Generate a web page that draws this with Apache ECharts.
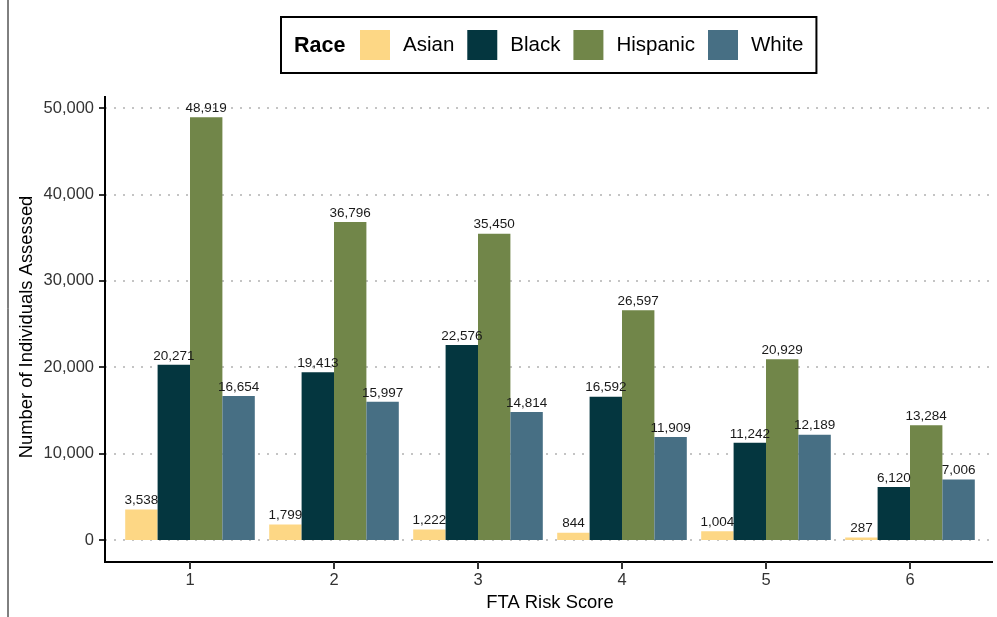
<!DOCTYPE html>
<html>
<head>
<meta charset="utf-8">
<script src="https://cdn.jsdelivr.net/npm/echarts@6/dist/echarts.min.js"></script>
<style>
html,body{margin:0;padding:0;background:#fff;}
#chart{width:997px;height:617px;}
</style>
</head>
<body>
<div id="chart"></div>
<script>
var categories = ['1', '2', '3', '4', '5', '6'];
var asian = [3538, 1799, 1222, 844, 1004, 287];
var black = [20271, 19413, 22576, 16592, 11242, 6120];
var hispanic = [48919, 36796, 35450, 26597, 20929, 13284];
var white = [16654, 15997, 14814, 11909, 12189, 7006];
var seriesNames = ['Asian', 'Black', 'Hispanic', 'White'];
var seriesColors = ['#FDD785', '#04363F', '#718649', '#476F84'];
var yTicks = [0, 10000, 20000, 30000, 40000, 50000];

var FONT = '"Liberation Sans", Arial, sans-serif';
var fmt = function (v) { return Number(v).toLocaleString('en-US'); };

var seriesData = [asian, black, hispanic, white];
var series = seriesData.map(function (d, i) {
  return {
    name: seriesNames[i],
    type: 'bar',
    xAxisIndex: 0,
    yAxisIndex: 0,
    data: d,
    barGap: '0%',
    barCategoryGap: '10%',
    itemStyle: { color: seriesColors[i] },
    label: {
      show: true,
      position: 'top',
      distance: 2,
      formatter: function (p) { return fmt(p.value); },
      fontFamily: FONT,
      fontSize: 13.5,
      color: '#1a1a1a'
    }
  };
});

var baseGraphics = [
  { type: 'line', shape: { x1: 8, y1: 0, x2: 8, y2: 617 }, style: { stroke: '#000', lineWidth: 1 }, z: 10 },
  { type: 'line', shape: { x1: 105, y1: 96, x2: 105, y2: 563 }, style: { stroke: '#000', lineWidth: 2 }, z: 10 },
  { type: 'line', shape: { x1: 104, y1: 562, x2: 993, y2: 562 }, style: { stroke: '#000', lineWidth: 2 }, z: 10 },
  { type: 'text', left: 294, top: 35, style: { text: 'Race', font: 'bold 21.5px ' + FONT, fill: '#000' }, z: 10 },
  { type: 'text', x: 27, y: 327, rotation: Math.PI / 2,
    style: { text: 'Number of Individuals Assessed', font: '18.4px ' + FONT, fill: '#000', align: 'center', verticalAlign: 'middle' }, z: 10 }
];

var chart = echarts.init(document.getElementById('chart'), null, { renderer: 'canvas' });
chart.setOption({
  animation: false,
  backgroundColor: '#ffffff',
  textStyle: { fontFamily: FONT },
  grid: [
    { left: 118, right: 15, top: 108, bottom: 77 },
    { left: 105, right: 4, top: 108, bottom: 77 },
    { left: 118, right: 15, top: 108, bottom: 55 }
  ],
  legend: {
    data: seriesNames,
    left: 281,
    top: 17,
    padding: [13, 13, 13, 79],
    itemWidth: 30,
    itemHeight: 30,
    itemGap: 13,
    icon: 'rect',
    borderColor: '#000',
    borderWidth: 2,
    borderRadius: 0,
    selectedMode: false,
    textStyle: { fontFamily: FONT, fontSize: 20.5, color: '#000', padding: [2, 0, 0, 8] }
  },
  xAxis: [
    { type: 'category', gridIndex: 0, data: categories, show: false },
    { type: 'value', gridIndex: 1, min: 0, max: 1, show: false },
    {
      type: 'category',
      gridIndex: 2,
      data: categories,
      position: 'bottom',
      axisLine: { show: true, lineStyle: { color: '#000', width: 2 } },
      axisTick: { show: false },
      axisLabel: { fontFamily: FONT, fontSize: 16.5, color: '#333', margin: 10 },
      splitLine: { show: false },
      name: 'FTA Risk Score',
      nameLocation: 'middle',
      nameGap: 30,
      nameTextStyle: { fontFamily: FONT, fontSize: 18.4, color: '#000' }
    }
  ],
  yAxis: [
    { type: 'value', gridIndex: 0, min: 0, max: 50000, interval: 10000, show: false },
    {
      type: 'value',
      gridIndex: 1,
      min: yTicks[0],
      max: yTicks[yTicks.length - 1],
      interval: 10000,
      axisLine: { show: false },
      axisTick: { show: true, length: 6, lineStyle: { color: '#333', width: 2 } },
      axisLabel: { fontFamily: FONT, fontSize: 16.5, color: '#333', margin: 11, formatter: fmt },
      splitLine: { show: true, lineStyle: { color: '#c4c4c4', width: 2, type: [2, 7] } }
    },
    { type: 'value', gridIndex: 2, min: 0, max: 1, show: false }
  ],
  graphic: baseGraphics,
  series: series
});

// x-axis tick marks at category positions, located through the library's own scale
var tickGraphics = categories.map(function (c) {
  var x = chart.convertToPixel({ xAxisIndex: 0 }, c);
  var y = chart.convertToPixel({ yAxisIndex: 2 }, 0);
  return { type: 'rect', shape: { x: x - 1, y: y, width: 2, height: 7 }, style: { fill: '#333' }, z: 20 };
});
chart.setOption({ graphic: baseGraphics.concat(tickGraphics) });
</script>
</body>
</html>
